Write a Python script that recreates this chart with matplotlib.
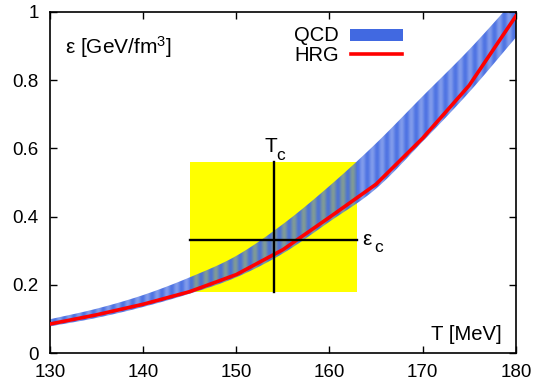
import numpy as np
import matplotlib
matplotlib.use("Agg")
import matplotlib.pyplot as plt
from matplotlib.patches import Rectangle
from matplotlib.lines import Line2D
from matplotlib.colors import to_rgb

plt.rcParams['font.family'] = ['Liberation Sans', 'DejaVu Sans']
plt.rcParams['mathtext.fontset'] = 'custom'
plt.rcParams['mathtext.rm'] = 'Liberation Sans'
plt.rcParams['mathtext.it'] = 'Liberation Sans'

# Data
T = [130, 135, 140, 145, 150, 155, 160, 165, 170, 175, 180]
hrg = [0.085, 0.112, 0.143, 0.180, 0.230, 0.303, 0.398, 0.495, 0.630, 0.785, 0.988]
qcd_low = [0.078, 0.103, 0.135, 0.174, 0.222, 0.292, 0.385, 0.482, 0.620, 0.765, 0.925]
qcd_high = [0.099, 0.130, 0.170, 0.222, 0.285, 0.378, 0.490, 0.615, 0.753, 0.890, 1.040]
Tc = 154
eps_c = 0.33
box_T = [145, 163]
box_eps = [0.18, 0.56]
xticks = [130, 140, 150, 160, 170, 180]
yticks = [0, 0.2, 0.4, 0.6, 0.8, 1.0]
ytick_labels = ["0", "0.2", "0.4", "0.6", "0.8", "1"]
labels = ['QCD', 'HRG']


def catmull_rom(xs, ys, n=40):
    xs = np.asarray(xs, float)
    ys = np.asarray(ys, float)
    px = np.concatenate([[2 * xs[0] - xs[1]], xs, [2 * xs[-1] - xs[-2]]])
    py = np.concatenate([[2 * ys[0] - ys[1]], ys, [2 * ys[-1] - ys[-2]]])
    ox, oy = [], []
    for i in range(1, len(px) - 2):
        t = np.linspace(0, 1, n, endpoint=False)
        for arr, out in ((px, ox), (py, oy)):
            p0, p1, p2, p3 = arr[i - 1], arr[i], arr[i + 1], arr[i + 2]
            out.append(0.5 * ((2 * p1) + (-p0 + p2) * t + (2 * p0 - 5 * p1 + 4 * p2 - p3) * t ** 2
                              + (-p0 + 3 * p1 - 3 * p2 + p3) * t ** 3))
    ox.append([xs[-1]])
    oy.append([ys[-1]])
    return np.concatenate(ox), np.concatenate(oy)


W, H = 534, 383
fig = plt.figure(figsize=(W / 100, H / 100), dpi=100)
ax = fig.add_axes([0.0936, 0.0783, 0.966 - 0.0936, 0.9687 - 0.0783])

# yellow box
ax.add_patch(Rectangle((box_T[0], box_eps[0]), box_T[1] - box_T[0], box_eps[1] - box_eps[0],
                       facecolor='#ffff00', edgecolor='none', zorder=1))

# QCD band (smooth outline, striped translucent fill)
tl, lo_s = catmull_rom(T, qcd_low)
th, hi_s = catmull_rom(T, qcd_high)
Tf = np.linspace(T[0], T[-1], 1001)
lo = np.interp(Tf, tl, lo_s)
hi = np.interp(Tf, th, hi_s)
band_color = '#4169e1'
poly = ax.fill_between(Tf, lo, hi, facecolor='none', edgecolor='none', zorder=2)
nx = 1200
xs = np.linspace(T[0], T[-1], nx)
alpha_row = 0.80 + 0.13 * np.sin(2 * np.pi * xs / 1.05)
rgba = np.zeros((2, nx, 4))
rgba[..., :3] = to_rgb(band_color)
rgba[..., 3] = alpha_row[None, :]
img = ax.imshow(rgba, extent=[T[0], T[-1], 0, 1.2], aspect='auto', origin='lower',
                interpolation='bilinear', zorder=2)
img.set_clip_path(poly.get_paths()[0], transform=ax.transData)

# HRG line
ax.plot(T, hrg, color='#ff0000', lw=2.6, zorder=3)

# crosshair
ax.plot(box_T, [eps_c, eps_c], color='black', lw=1.7, zorder=4)
ax.plot([Tc, Tc], box_eps, color='black', lw=1.7, zorder=4)

# T_c label
ax.annotate('T', xy=(Tc, box_eps[1]), xytext=(-3, 10), textcoords='offset pixels',
            ha='center', va='baseline', fontsize=15)
ax.annotate('c', xy=(Tc, box_eps[1]), xytext=(3, 2), textcoords='offset pixels',
            ha='left', va='baseline', fontsize=12.5)
# eps_c label
ax.annotate('ε', xy=(box_T[1], eps_c), xytext=(4.5, -5), textcoords='offset pixels',
            ha='left', va='baseline', fontsize=15)
ax.annotate('c', xy=(box_T[1], eps_c), xytext=(17, -12), textcoords='offset pixels',
            ha='left', va='baseline', fontsize=12.5)

ax.text(0.033, 0.935, r'ε [GeV/fm$^\mathrm{3}$]', transform=ax.transAxes, ha='left', va='top',
        fontsize=15)
ax.text(0.97, 0.025, 'T [MeV]', transform=ax.transAxes, ha='right', va='bottom', fontsize=14.6)

# key (gnuplot style: right-justified label, then sample)
fig.text(339 / W, 1 - 41 / H, labels[0], ha='right', va='baseline', fontsize=14.5)
fig.text(339 / W, 1 - 61 / H, labels[1], ha='right', va='baseline', fontsize=14.5)
fig.patches.append(Rectangle((350 / W, 1 - 41 / H), 53 / W, 12 / H, transform=fig.transFigure,
                             facecolor=band_color, edgecolor='none'))
fig.lines.append(Line2D([351 / W, 402 / W], [1 - 53.5 / H, 1 - 53.5 / H],
                        transform=fig.transFigure, color='#ff0000', lw=2.6))

ax.set_xlim(130, 180)
ax.set_ylim(0, 1)
ax.set_xticks(xticks)
ax.set_yticks(yticks)
ax.set_yticklabels(ytick_labels)
ax.tick_params(direction='in', top=True, right=True, labelsize=13.5, length=5, width=1)
ax.tick_params(axis='y', pad=8)
ax.tick_params(axis='x', pad=8)
for s in ax.spines.values():
    s.set_linewidth(1.2)

fig.savefig('out.png', dpi=100)
